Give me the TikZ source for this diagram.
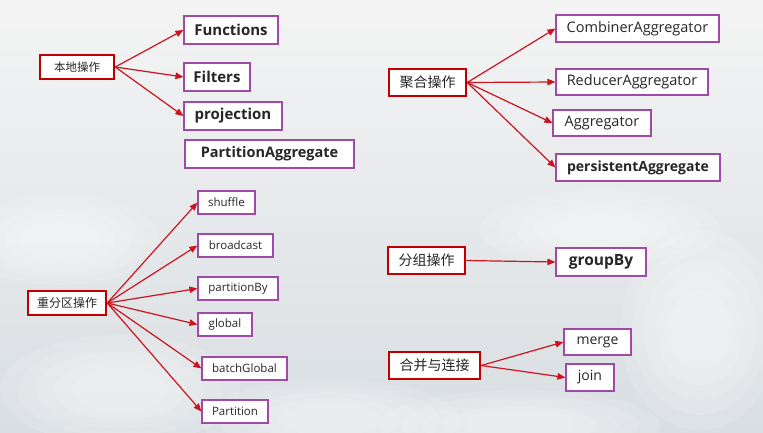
\documentclass[tikz,border=0pt]{standalone}
\usepackage{fontspec}
\setmainfont{Open Sans}
\newfontfamily\cjk{Noto Sans CJK SC}
\usetikzlibrary{arrows.meta,shadings}
\definecolor{boxred}{HTML}{C00000}
\definecolor{arrred}{HTML}{CC1420}
\definecolor{boxpurple}{HTML}{A04AA8}
\definecolor{txt}{HTML}{262626}
\definecolor{bgtop}{HTML}{F4F4F4}
\definecolor{bgbot}{HTML}{D9DEE2}
\begin{document}
\begin{tikzpicture}[x=1pt,y=-1pt,
  redbox/.style={draw=boxred,line width=2.5pt,fill=white,inner sep=0pt,text=txt,font=\cjk\fontsize{#1}{#1}\selectfont},
  purbox/.style={draw=boxpurple,line width=1.1pt,fill=white,inner sep=0pt,text=txt},
  bf/.style={font=\bfseries\fontsize{#1}{#1}\selectfont},
  rf/.style={font=\fontsize{#1}{#1}\selectfont},
  conn/.style={draw=arrred,line width=1.2pt,-{Triangle[length=8pt,width=6.5pt]}}]
\shade[top color=bgtop,bottom color=bgbot] (0,0) rectangle (763,432);
\useasboundingbox (0,0) rectangle (763,432);
\foreach \cx/\cy/\rx/\ry in {120/390/120/55, 330/420/130/40, 700/330/80/100, 520/425/140/35, 60/240/100/45, 600/230/120/40}{
  \foreach \k in {1.0,0.85,0.7,0.55,0.4}{
    \fill[white,opacity=0.12] (\cx,\cy) ellipse ({\k*\rx} and {\k*\ry});
  }
}
% source boxes
\node[redbox=11.5,minimum width=74pt,minimum height=24pt] (loc) at (77,67) {本地操作};
\node[redbox=14,minimum width=77pt,minimum height=27pt] (agg) at (427.5,82.5) {聚合操作};
\node[redbox=12,minimum width=78pt,minimum height=24pt] (rep) at (67,303) {重分区操作};
\node[redbox=14,minimum width=77pt,minimum height=27pt] (grp) at (426.5,260.5) {分组操作};
\node[redbox=14,minimum width=91pt,minimum height=27pt] (mj) at (434.5,365.5) {合并与连接};
% local
\node[purbox,bf=15,minimum width=94pt,minimum height=28pt] (fun) at (231,30) {Functions};
\node[purbox,bf=15,minimum width=66pt,minimum height=28pt] (fil) at (217,77) {Filters};
\node[purbox,bf=15,minimum width=98pt,minimum height=28pt] (proj) at (233,116) {projection};
\node[purbox,bf=14.5,minimum width=169pt,minimum height=28pt] (pagg) at (269.5,154) {PartitionAggregate};
% aggregation
\node[purbox,rf=14.5,minimum width=163pt,minimum height=27pt] (comb) at (637.5,28.5) {CombinerAggregator};
\node[purbox,rf=14.5,minimum width=152pt,minimum height=26pt] (redu) at (632,82) {ReducerAggregator};
\node[purbox,rf=14.5,minimum width=98pt,minimum height=26pt] (aggr) at (602,123) {Aggregator};
\node[purbox,bf=14,minimum width=164pt,minimum height=27pt] (pers) at (638,167.5) {persistentAggregate};
% repartition
\node[purbox,rf=11.5,minimum width=57pt,minimum height=23pt] (shuf) at (226.5,202.5) {shuffle};
\node[purbox,rf=11.5,minimum width=75pt,minimum height=23pt] (bro) at (235.5,245.5) {broadcast};
\node[purbox,rf=11.5,minimum width=80pt,minimum height=23pt] (pby) at (238,288.5) {partitionBy};
\node[purbox,rf=11.5,minimum width=54pt,minimum height=23pt] (glob) at (225,324.5) {global};
\node[purbox,rf=11.5,minimum width=85pt,minimum height=23pt] (bg) at (244.5,368.5) {batchGlobal};
\node[purbox,rf=11.5,minimum width=66pt,minimum height=23pt] (part) at (235,411.5) {Partition};
% group / merge
\node[purbox,bf=15.5,minimum width=90pt,minimum height=28pt] (gby) at (601,262) {groupBy};
\node[purbox,rf=14,minimum width=67pt,minimum height=26pt] (merge) at (597.5,342) {merge};
\node[purbox,rf=14,minimum width=48pt,minimum height=27pt] (join) at (590,377.5) {join};
% connectors
\foreach \t in {fun,fil,proj} \draw[conn] (loc.east) -- (\t.west);
\foreach \t in {comb,redu,aggr,pers} \draw[conn] (agg.east) -- (\t.west);
\foreach \t in {shuf,bro,pby,glob,bg,part} \draw[conn] (rep.east) -- (\t.west);
\draw[conn] (grp.east) -- (gby.west);
\foreach \t in {merge,join} \draw[conn] (mj.east) -- (\t.west);
\end{tikzpicture}
\end{document}
